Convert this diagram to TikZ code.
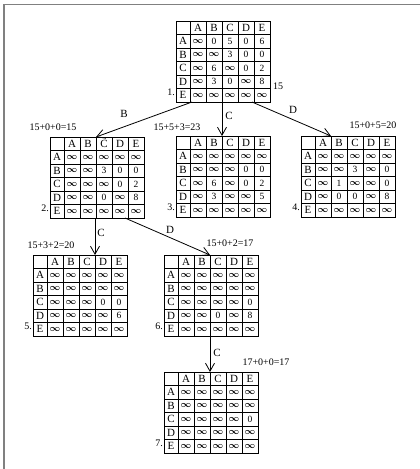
\documentclass[tikz,border=0pt]{standalone}
\usepackage{fontspec}
\setmainfont{Liberation Serif}
\usetikzlibrary{arrows.meta}
\newcommand\I{{\boldmath$\infty$}}
\tikzset{
 gridline/.style={line width=0.8pt,black},
 hd/.style={inner sep=0pt,font=\fontsize{11}{11}\selectfont},
 val/.style={inner sep=0pt,font=\fontsize{9.5}{10}\selectfont},
 lbl/.style={inner sep=0pt,font=\fontsize{10}{10}\selectfont},
 conn/.style={line width=0.8pt,-{Straight Barb[length=8pt,width=9pt,line width=0.8pt]}},
 framel/.style={line width=1.5pt,gray}
}
\newcommand\drawmat[9]{%
\begin{scope}[shift={(#2,#3)}]
 \draw[gridline] (0,0) rectangle (94,81);
 \foreach \k in {1,...,5} \draw[gridline] (0,\k*13.5) -- (94,\k*13.5);
 \draw[gridline] (14,0) -- (14,81);
 \foreach \k in {1,...,4} \draw[gridline] (14+\k*16,0) -- (14+\k*16,81);
 \foreach \h [count=\c] in {A,B,C,D,E} {
   \node[hd] (#1-h\c) at (14+\c*16-8,6.75) {\h};
   \node[hd] (#1-r\c) at (7,\c*13.5+6.75) {\h};
 }
 \foreach \v [count=\c] in {#4} \node[val] (#1-1-\c) at (14+\c*16-8,1*13.5+6.75) {\v};
 \foreach \v [count=\c] in {#5} \node[val] (#1-2-\c) at (14+\c*16-8,2*13.5+6.75) {\v};
 \foreach \v [count=\c] in {#6} \node[val] (#1-3-\c) at (14+\c*16-8,3*13.5+6.75) {\v};
 \foreach \v [count=\c] in {#7} \node[val] (#1-4-\c) at (14+\c*16-8,4*13.5+6.75) {\v};
 \foreach \v [count=\c] in {#8} \node[val] (#1-5-\c) at (14+\c*16-8,5*13.5+6.75) {\v};
 \node[lbl,anchor=east] (#1-num) at (-1,71) {#9.};
 \coordinate (#1-ab) at (30,0);
 \coordinate (#1-bc) at (46,0);
 \coordinate (#1-cd) at (62,0);
\end{scope}}
\begin{document}
\begin{tikzpicture}[x=1pt,y=-1pt]
\useasboundingbox (0,0) rectangle (420,469);
\fill[white] (0,0) rectangle (420,469);
\draw[framel] (4,469) -- (4,4.5) -- (420,4.5);
\drawmat{m1}{176}{21}{\I,0,5,0,6}{\I,\I,3,0,0}{\I,6,\I,0,2}{\I,3,0,\I,8}{\I,\I,\I,\I,\I}{1}
\drawmat{m2}{50}{137}{\I,\I,\I,\I,\I}{\I,\I,3,0,0}{\I,\I,\I,0,2}{\I,\I,0,\I,8}{\I,\I,\I,\I,\I}{2}
\drawmat{m3}{176}{136}{\I,\I,\I,\I,\I}{\I,\I,\I,0,0}{\I,6,\I,0,2}{\I,3,\I,\I,5}{\I,\I,\I,\I,\I}{3}
\drawmat{m4}{301}{136}{\I,\I,\I,\I,\I}{\I,\I,3,\I,0}{\I,1,\I,\I,0}{\I,0,0,\I,8}{\I,\I,\I,\I,\I}{4}
\drawmat{m5}{33}{255}{\I,\I,\I,\I,\I}{\I,\I,\I,\I,\I}{\I,\I,\I,0,0}{\I,\I,\I,\I,6}{\I,\I,\I,\I,\I}{5}
\drawmat{m6}{164}{255}{\I,\I,\I,\I,\I}{\I,\I,\I,\I,\I}{\I,\I,\I,\I,0}{\I,\I,0,\I,8}{\I,\I,\I,\I,\I}{6}
\drawmat{m7}{164}{372}{\I,\I,\I,\I,\I}{\I,\I,\I,\I,\I}{\I,\I,\I,\I,0}{\I,\I,\I,\I,\I}{\I,\I,\I,\I,\I}{7}
% connector start points
\coordinate (m1-sB) at (192,102);
\coordinate (m1-sC) at (222,102);
\coordinate (m1-sD) at (252,102);
\coordinate (m2-sC) at (95,218);
\coordinate (m2-sD) at (125,218);
\coordinate (m6-sC) at (210,336);
\draw[conn] (m1-sB) -- (m2-bc);
\draw[conn] (m1-sC) -- (m3-bc);
\draw[conn] (m1-sD) -- (m4-ab);
\draw[conn] (m2-sC) -- (m5-cd);
\draw[conn] (m2-sD) -- (m6-bc);
\draw[conn] (m6-sC) -- (m7-bc);
% edge labels
\node[hd] (eB) at (124,114) {B};
\node[hd] (eC1) at (229,116) {C};
\node[hd] (eD1) at (293,110) {D};
\node[hd] (eC2) at (101,233) {C};
\node[hd] (eD2) at (170,230) {D};
\node[hd] (eC3) at (217,353) {C};
% cost labels
\node[lbl,anchor=west] (c1) at (273,86) {15};
\node[lbl] (c2) at (53,127) {15+0+0=15};
\node[lbl] (c3) at (177,127) {15+5+3=23};
\node[lbl] (c4) at (373,125) {15+0+5=20};
\node[lbl] (c5) at (51,245) {15+3+2=20};
\node[lbl] (c6) at (230,243) {15+0+2=17};
\node[lbl] (c7) at (266,362) {17+0+0=17};
\end{tikzpicture}
\end{document}
